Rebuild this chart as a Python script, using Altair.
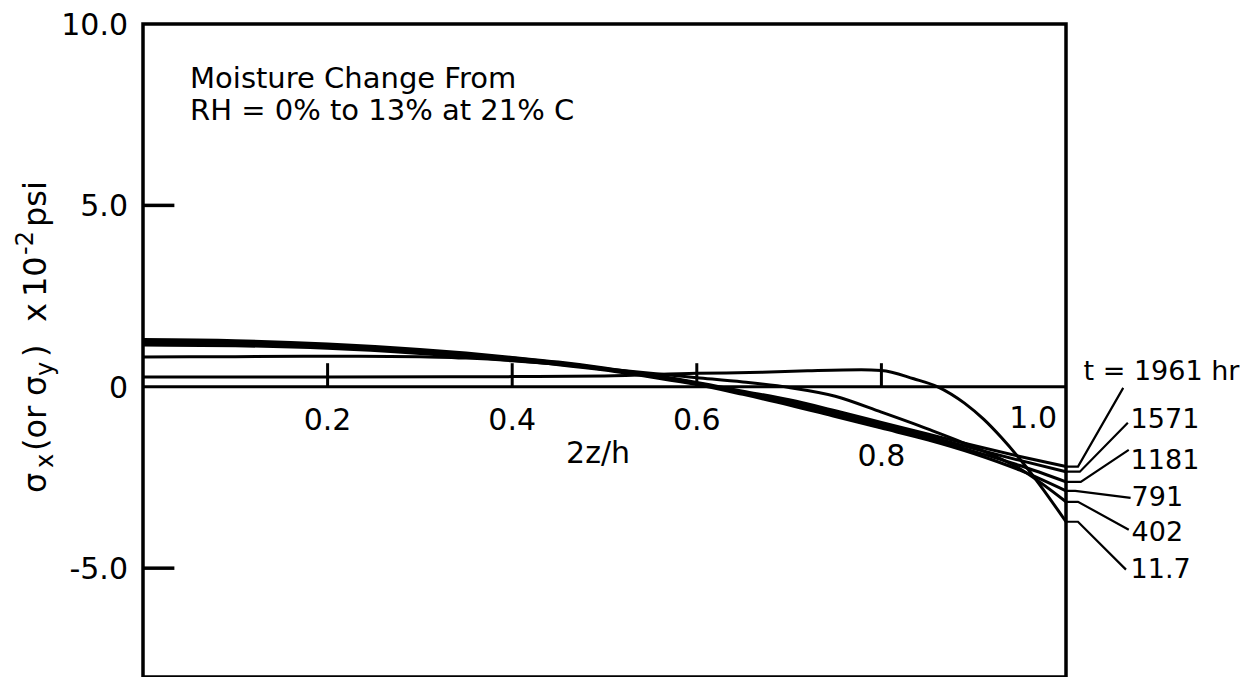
import altair as alt
import pandas as pd

# ---------------- data ----------------
x_common = [0, 0.1, 0.2, 0.3, 0.35, 0.4, 0.45, 0.5, 0.55, 0.6, 0.65, 0.7, 0.75, 0.8, 0.85, 0.9, 0.95, 1.0]
s_1961 = [1.30, 1.27, 1.18, 1.03, 0.93, 0.81, 0.68, 0.52, 0.33, 0.12, -0.12, -0.36, -0.66, -0.98, -1.30, -1.62, -1.92, -2.20]
s_1571 = [1.26, 1.23, 1.15, 1.00, 0.90, 0.79, 0.66, 0.50, 0.31, 0.10, -0.15, -0.41, -0.72, -1.04, -1.36, -1.70, -2.03, -2.34]
s_1181 = [1.21, 1.19, 1.11, 0.96, 0.86, 0.76, 0.63, 0.48, 0.29, 0.08, -0.18, -0.46, -0.78, -1.10, -1.42, -1.78, -2.17, -2.62]
s_791 = [1.15, 1.13, 1.06, 0.92, 0.83, 0.73, 0.61, 0.46, 0.27, 0.06, -0.21, -0.50, -0.82, -1.14, -1.46, -1.84, -2.30, -2.87]
s_402 = [0.82, 0.83, 0.84, 0.83, 0.79, 0.72, 0.62, 0.50, 0.37, 0.25, 0.13, -0.02, -0.26, -0.70, -1.16, -1.66, -2.26, -3.17]

x_11_7 = [0, 0.2, 0.4, 0.5, 0.6, 0.67, 0.72, 0.778, 0.80, 0.835, 0.861, 0.89, 0.911, 0.93, 0.948, 0.973, 1.0]
s_11_7 = [0.27, 0.27, 0.28, 0.30, 0.37, 0.40, 0.44, 0.47, 0.45, 0.22, 0.0, -0.45, -0.90, -1.40, -1.93, -2.75, -3.72]

series_names = ["1961", "1571", "1181", "791", "402", "11.7"]
label_texts = ["t = 1961 hr", "1571", "1181", "791", "402", "11.7"]
label_x = [1.019, 1.070, 1.070, 1.071, 1.071, 1.070]
label_y = [0.41, -0.91, -2.04, -3.06, -4.02, -5.04]

leader_x = [[1.0, 1.013, 1.062], [1.0, 1.015, 1.067], [1.0, 1.016, 1.068],
            [1.0, 1.010, 1.070], [1.0, 1.013, 1.068], [1.0, 1.013, 1.065]]
leader_y = [[-2.20, -2.20, -0.03], [-2.34, -2.34, -0.99], [-2.62, -2.62, -1.74],
            [-2.87, -2.87, -3.06], [-3.17, -3.17, -3.94], [-3.72, -3.72, -5.04]]

x_tick_values = [0.2, 0.4, 0.6, 0.8]
x_tick_labels = ["0.2", "0.4", "0.6"]
y_tick_values = [5, -5]
y_label_values = [10, 5, 0, -5]
y_label_texts = ["10.0", "5.0", "0", "-5.0"]

# text annotations placed in data coordinates
note_texts = ["Moisture Change From", "RH = 0% to 13% at 21% C"]
note_x = [0.051, 0.051]
note_y = [8.236, 7.354]

# y-axis title pieces: (text, x, y, font size)
title_pieces = [
    ("σ", -0.1051, -2.927, 32),
    ("x", -0.0975, -2.238, 24),
    ("(or", -0.1051, -1.769, 32),
    ("σ", -0.1051, -0.254, 32),
    ("y", -0.0975, 0.298, 24),
    (")", -0.1051, 0.821, 32),
    ("x", -0.1051, 1.786, 32),
    ("10", -0.1051, 2.475, 32),
    ("-2", -0.1192, 3.633, 24),
    ("psi", -0.1051, 4.405, 32),
]

# ---------------- tables ----------------
rows = []
for name, ys in zip(series_names[:5], [s_1961, s_1571, s_1181, s_791, s_402]):
    for i, (xv, yv) in enumerate(zip(x_common, ys)):
        rows.append({"series": name, "i": i, "x": xv, "y": yv})
for i, (xv, yv) in enumerate(zip(x_11_7, s_11_7)):
    rows.append({"series": "11.7", "i": i, "x": xv, "y": yv})
curves = pd.DataFrame(rows)

lrows = []
for name, xs, ys in zip(series_names, leader_x, leader_y):
    for i, (xv, yv) in enumerate(zip(xs, ys)):
        lrows.append({"series": name, "i": i, "x": xv, "y": yv})
leaders = pd.DataFrame(lrows)

labels = pd.DataFrame({"text": label_texts, "x": label_x, "y": label_y})

FONT = "DejaVu Sans"
XS = alt.Scale(domain=[0, 1], nice=False, zero=False)
YS = alt.Scale(domain=[-8, 10], nice=False, zero=False)

def X(f):
    return alt.X(f, scale=XS, axis=None)

def Y(f):
    return alt.Y(f, scale=YS, axis=None)

lines = alt.Chart(curves).mark_line(color="black", strokeWidth=3, interpolate="monotone").encode(
    x=X("x:Q"), y=Y("y:Q"), detail="series:N", order="i:Q",
)

leader_lines = alt.Chart(leaders).mark_line(color="black", strokeWidth=2.2).encode(
    x=X("x:Q"), y=Y("y:Q"), detail="series:N", order="i:Q"
)

right_labels = alt.Chart(labels).mark_text(
    font=FONT, fontSize=27, color="black", baseline="middle", align="left"
).encode(x=X("x:Q"), y=Y("y:Q"), text="text:N")

zero_line = alt.Chart(pd.DataFrame({"y": [0]})).mark_rule(color="black", strokeWidth=3).encode(
    y=Y("y:Q")
)

x_ticks = alt.Chart(pd.DataFrame({"x": x_tick_values, "y0": [0] * 4, "y1": [0.65] * 4})).mark_rule(
    color="black", strokeWidth=3).encode(
    x=X("x:Q"), y=Y("y0:Q"), y2="y1",
)

y_ticks = alt.Chart(pd.DataFrame({"y": y_tick_values, "x0": [0] * 2, "x1": [0.034] * 2})).mark_rule(
    color="black", strokeWidth=3.5).encode(
    y=Y("y:Q"), x=X("x0:Q"), x2="x1",
)

y_labels = alt.Chart(pd.DataFrame({"y": y_label_values, "x": [0] * 4, "t": y_label_texts})).mark_text(
    font=FONT, fontSize=30, color="black", baseline="middle", align="right", dx=-15, dy=2
).encode(x=X("x:Q"), y=Y("y:Q"), text="t:N")

x_labels = alt.Chart(pd.DataFrame({"x": x_tick_values[:3], "y": [0] * 3, "t": x_tick_labels})).mark_text(
    font=FONT, fontSize=30, color="black", baseline="middle", align="center", dy=34
).encode(x=X("x:Q"), y=Y("y:Q"), text="t:N")

x_label_08 = alt.Chart(pd.DataFrame({"x": [0.8], "y": [0], "t": ["0.8"]})).mark_text(
    font=FONT, fontSize=30, color="black", baseline="middle", align="center", dy=70
).encode(x=X("x:Q"), y=Y("y:Q"), text="t:N")

x_label_10 = alt.Chart(pd.DataFrame({"x": [1.0], "y": [0], "t": ["1.0"]})).mark_text(
    font=FONT, fontSize=30, color="black", baseline="middle", align="right", dx=-9, dy=32
).encode(x=X("x:Q"), y=Y("y:Q"), text="t:N")

x_title = alt.Chart(pd.DataFrame({"x": [0.493], "y": [-1.852], "t": ["2z/h"]})).mark_text(
    font=FONT, fontSize=30, color="black", baseline="middle", align="center"
).encode(x=X("x:Q"), y=Y("y:Q"), text="t:N")

note = alt.Chart(pd.DataFrame({"x": note_x, "y": note_y, "t": note_texts})).mark_text(
    font=FONT, fontSize=29, color="black", baseline="alphabetic", align="left"
).encode(x=X("x:Q"), y=Y("y:Q"), text="t:N")

title_layers = []
for txt, xv, yv, fs in title_pieces:
    title_layers.append(
        alt.Chart(pd.DataFrame({"x": [xv], "y": [yv], "t": [txt]})).mark_text(
            font=FONT, fontSize=fs, color="black", angle=270, align="left", baseline="alphabetic"
        ).encode(x=X("x:Q"), y=Y("y:Q"), text="t:N")
    )

chart = alt.layer(
    zero_line, x_ticks, y_ticks, lines, leader_lines, right_labels,
    y_labels, x_labels, x_label_08, x_label_10, x_title, note, *title_layers
).properties(
    width=923, height=653,
    autosize=alt.AutoSizeParams(type="none"),
    padding={"left": 135, "top": 16, "right": 175, "bottom": 0},
    background="white",
).configure_view(stroke="black", strokeWidth=3.5)

chart.save("out.html", embed_options={"renderer": "svg", "actions": False})
